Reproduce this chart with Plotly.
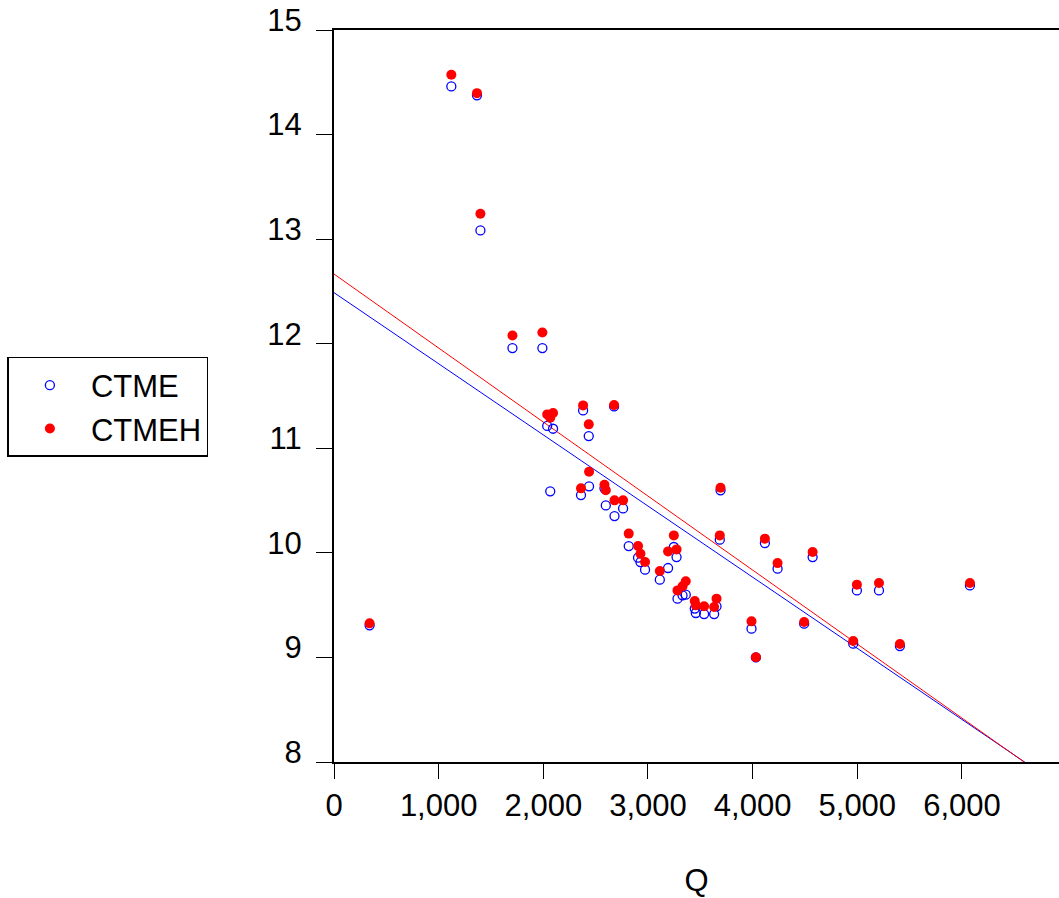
import numpy as np
import plotly.graph_objects as go

# Data
Q = [340, 1121, 1366, 1399, 1705, 1991, 2037, 2066, 2093, 2360, 2380, 2434, 2437,
     2584, 2597, 2676, 2680, 2762, 2816, 2905, 2928, 2972, 3113, 3192, 3247, 3273,
     3282, 3330, 3361, 3447, 3457, 3536, 3632, 3655, 3686, 3693, 3989, 4031, 4117,
     4238, 4492, 4573, 4961, 4996, 5207, 5407, 6076]
CTME = [9.307, 14.46, 14.375, 13.083, 11.958, 11.958, 11.214, 10.588, 11.187, 10.553,
        11.362, 11.117, 10.636, 10.617, 10.454, 11.40, 10.352, 10.425, 10.065, 9.954,
        9.912, 9.839, 9.744, 9.855, 10.056, 9.96, 9.562, 9.594, 9.60, 9.467, 9.425,
        9.415, 9.415, 9.489, 10.126, 10.598, 9.275, 9.0, 10.094, 9.849, 9.323, 9.96,
        9.132, 9.641, 9.641, 9.109, 9.689]
CTMEH = [9.326, 14.572, 14.396, 13.243, 12.079, 12.108, 11.324, 11.293, 11.337, 10.617,
         11.41, 11.229, 10.776, 10.652, 10.598, 11.413, 10.502, 10.502, 10.184, 10.065,
         9.992, 9.912, 9.826, 10.014, 10.167, 10.033, 9.641, 9.68, 9.728, 9.539, 9.498,
         9.489, 9.482, 9.562, 10.167, 10.623, 9.345, 9.001, 10.136, 9.902, 9.338, 10.008,
         9.157, 9.696, 9.711, 9.128, 9.711]
x_ticks = [0, 1000, 2000, 3000, 4000, 5000, 6000, 7000]
x_tick_labels = ["0", "1,000", "2,000", "3,000", "4,000", "5,000", "6,000", "7,000"]
y_ticks = [8, 9, 10, 11, 12, 13, 14, 15]

BLUE = "#0000FF"
RED = "#FF0000"
FONT = "Arial, Liberation Sans, sans-serif"

qa = np.array(Q, dtype=float)
b_fit = np.polyfit(qa, np.array(CTME), 1)
r_fit = np.polyfit(qa, np.array(CTMEH), 1)
line_x = np.array([0.0, 8000.0])

fig = go.Figure()
fig.add_trace(go.Scatter(x=line_x, y=np.polyval(b_fit, line_x), mode="lines",
                         line=dict(color=BLUE, width=1), showlegend=False, hoverinfo="skip"))
fig.add_trace(go.Scatter(x=line_x, y=np.polyval(r_fit, line_x), mode="lines",
                         line=dict(color=RED, width=1), showlegend=False, hoverinfo="skip"))
fig.add_trace(go.Scatter(x=Q, y=CTME, mode="markers", name="CTME",
                         marker=dict(symbol="circle-open", size=9, color=BLUE,
                                     line=dict(color=BLUE, width=1.3))))
fig.add_trace(go.Scatter(x=Q, y=CTMEH, mode="markers", name="CTMEH",
                         marker=dict(symbol="circle", size=10, color=RED)))

fig.update_layout(
    width=1059, height=898,
    margin=dict(l=334, r=0, t=30, b=136),
    paper_bgcolor="white", plot_bgcolor="white",
    font=dict(family=FONT, size=31, color="black"),
    showlegend=True,
    legend=dict(x=-0.4505, y=0.5533, xanchor="left", yanchor="top",
                bordercolor="black", borderwidth=1.5, bgcolor="white",
                font=dict(size=31), itemwidth=72, tracegroupgap=0,
                entrywidth=140, entrywidthmode="pixels"),
    xaxis=dict(range=[0, 6927], tickvals=x_ticks, ticktext=x_tick_labels,
               showgrid=False, zeroline=False, showline=True, linecolor="black",
               linewidth=2, mirror=True, ticks="outside", ticklen=15, tickwidth=1,
               tickcolor="black",
               title=dict(text="Q", standoff=52, font=dict(size=31))),
    yaxis=dict(range=[8, 15], tickvals=y_ticks, showgrid=False, zeroline=False,
               showline=True, linecolor="black", linewidth=2, mirror=False,
               ticks="outside", ticklen=16, tickwidth=1, tickcolor="black",
               ticklabelstandoff=8, ticklabelshift=-10),
)

fig.write_html("out.html")
